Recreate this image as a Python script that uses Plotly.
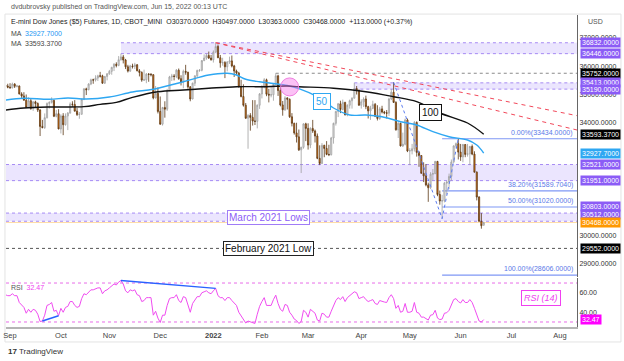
import plotly.graph_objects as go
import pandas as pd

FONT = "Liberation Sans, Arial, sans-serif"

# ---------------- data ----------------
dates = pd.bdate_range("2021-08-30", "2022-06-15")

opens = [
    35330, 35300, 35260, 35240, 35370,
    35290, 35300, 35020, 34950, 34800,
    34540, 34780, 34500, 34740, 34680,
    34450, 33870, 33830, 34180, 34680,
    34720, 34790, 34230, 34320, 33780,
    34240, 33930, 34240, 34340, 34660,
    34650, 34410, 34290, 34300, 34830,
    35200, 35170, 35370, 35520, 35510,
    35580, 35660, 35660, 35400, 35640,
    35730, 35820, 35960, 36070, 36030,
    36230, 36330, 36220, 35980, 35830,
    36010, 35990, 36050, 35840, 35780,
    35510, 35520, 35720, 35710, 35700,
    34880, 35040, 34400, 33950, 34540,
    34480, 35130, 35620, 35650, 35640,
    35860, 35560, 35440, 35820, 35790,
    35270, 34840, 35400, 35660, 35850,
    35860, 36200, 36290, 36380, 36290,
    36230, 36500, 36700, 36300, 36120,
    36130, 35980, 36150, 36190, 36010,
    35830, 35760, 35270, 34930, 34620,
    34160, 34260, 34190, 34060, 34050,
    34620, 35020, 35300, 35520, 35010,
    34980, 34990, 35360, 35660, 35140,
    34630, 34460, 34880, 34830, 34210,
    33980, 33640, 33500, 33040, 33130,
    33960, 33800, 33210, 33800, 33710,
    33530, 32740, 32560, 33200, 33090,
    32880, 32870, 33460, 33980, 34400,
    34670, 34470, 34720, 34280, 34620,
    34780, 34870, 35210, 35150, 34620,
    34740, 34840, 34570, 34420, 34510,
    34650, 34230, 34150, 34490, 34380,
    34350, 34340, 34840, 35080, 34720,
    33750, 33980, 33180, 33240, 34100,
    33000, 33010, 33080, 34010, 32950,
    32840, 32210, 32120, 31800, 31700,
    32180, 32200, 32630, 31460, 31230,
    31240, 31860, 31900, 32100, 32610,
    33180, 33260, 32960, 32790, 33230,
    32880, 32900, 33160, 32890, 32250,
    31370, 30510, 30370,
]
highs = [
    35420, 35380, 35400, 35420, 35400,
    35340, 35320, 35080, 35080, 35000,
    34900, 34860, 34760, 34780, 34720,
    34480, 34100, 34330, 34720, 34760,
    34900, 34820, 34450, 34480, 34300,
    34340, 34330, 34380, 34720, 34760,
    34800, 34520, 34380, 34860, 35220,
    35240, 35400, 35560, 35560, 35680,
    35700, 35800, 35700, 35650, 35760,
    35870, 35980, 36110, 36140, 36360,
    36446, 36400, 36260, 36050, 36050,
    36090, 36120, 36080, 35900, 35820,
    35880, 35760, 35760, 35760, 35720,
    35300, 35250, 34930, 34560, 34760,
    35200, 35660, 35730, 35720, 35900,
    35920, 35680, 35880, 36050, 35800,
    35300, 35420, 35680, 35880, 35900,
    36220, 36420, 36450, 36520, 36400,
    36560, 36832, 36770, 36400, 36300,
    36180, 36180, 36340, 36380, 36050,
    35880, 35800, 35520, 35360, 34700,
    34300, 34340, 34800, 34800, 34650,
    35050, 35320, 35580, 35560, 35200,
    35280, 35400, 35752, 35700, 35320,
    34770, 34940, 34900, 34860, 34340,
    34000, 34000, 33760, 33150, 33980,
    34000, 33980, 33840, 34100, 33760,
    33620, 33200, 33280, 33220, 33350,
    33220, 33500, 34000, 34420, 34700,
    34780, 34820, 34740, 34650, 34820,
    34900, 35413, 35300, 35180, 34830,
    34900, 34960, 34600, 34600, 34780,
    34700, 34620, 34560, 34600, 34420,
    34450, 34880, 35190, 35434, 34760,
    34020, 34000, 33650, 34150, 34150,
    33100, 33250, 34060, 34050, 33000,
    32850, 32600, 32540, 31880, 32250,
    32360, 32650, 32650, 31600, 31450,
    31900, 31950, 32200, 32700, 33200,
    33300, 33434, 33250, 33250, 33240,
    33250, 33180, 33230, 32990, 32280,
    31400, 30800, 30497,
]
lows = [
    35250, 35220, 35200, 35210, 35230,
    35250, 35000, 34880, 34780, 34520,
    34520, 34460, 34420, 34520, 34380,
    33530, 33800, 33780, 34150, 34500,
    34680, 34200, 34190, 33770, 33620,
    33560, 33900, 33740, 34330, 34560,
    34400, 34240, 34140, 34290, 34800,
    34980, 35150, 35330, 35380, 35460,
    35480, 35600, 35380, 35380, 35500,
    35700, 35700, 35830, 35960, 36000,
    36200, 36100, 35900, 35780, 35800,
    35920, 35900, 35820, 35640, 35450,
    35480, 35400, 35450, 35640, 34830,
    34860, 34330, 33930, 33900, 34180,
    34420, 35120, 35480, 35500, 35580,
    35520, 35320, 35220, 35700, 35200,
    34760, 34830, 35300, 35620, 35800,
    35820, 36180, 36230, 36260, 36200,
    36130, 36480, 36290, 35950, 36020,
    35580, 35820, 36080, 35960, 35620,
    35700, 35250, 34900, 34570, 34140,
    33080, 33720, 33900, 33920, 33800,
    34490, 34860, 35220, 34940, 34720,
    34900, 34780, 35350, 34950, 34580,
    34250, 34420, 34470, 34170, 33870,
    33580, 33300, 33000, 32220, 33080,
    33350, 33050, 33100, 33640, 33300,
    32710, 32500, 32540, 32780, 32850,
    32820, 32840, 33260, 33900, 34200,
    34340, 34440, 34260, 34230, 34500,
    34500, 34860, 35000, 34600, 34500,
    34560, 34480, 34150, 34100, 34480,
    34200, 34080, 34100, 34330, 34300,
    34150, 34240, 34800, 34700, 33720,
    33460, 33160, 33140, 33200, 32960,
    32500, 32880, 32980, 32800, 32440,
    32200, 31900, 31750, 31200, 31650,
    31950, 32180, 31400, 31100, 30606,
    31180, 31460, 31650, 31950, 32580,
    33100, 32700, 32650, 32600, 32780,
    32800, 32500, 32850, 32240, 31250,
    30500, 30250, 30363,
]
closes = [
    35300, 35260, 35240, 35370, 35290,
    35300, 35020, 34950, 34800, 34540,
    34780, 34500, 34740, 34680, 34450,
    33870, 33830, 34180, 34680, 34720,
    34790, 34230, 34320, 33780, 34240,
    33930, 34240, 34340, 34660, 34650,
    34410, 34290, 34300, 34830, 35200,
    35170, 35370, 35520, 35510, 35580,
    35660, 35650, 35400, 35640, 35730,
    35820, 35960, 36070, 36030, 36230,
    36330, 36220, 35980, 35830, 36010,
    35990, 36050, 35840, 35780, 35510,
    35520, 35720, 35710, 35700, 34880,
    35040, 34400, 33950, 34540, 34480,
    35130, 35620, 35650, 35640, 35860,
    35560, 35440, 35820, 35790, 35270,
    34840, 35400, 35660, 35850, 35860,
    36200, 36290, 36380, 36290, 36230,
    36500, 36700, 36300, 36120, 36130,
    35980, 36150, 36190, 36010, 35830,
    35760, 35270, 34930, 34620, 34160,
    34260, 34190, 34060, 34050, 34620,
    35020, 35300, 35520, 35010, 34980,
    34990, 35360, 35660, 35140, 34630,
    34460, 34880, 34830, 34210, 33980,
    33640, 33500, 33040, 33130, 33960,
    33800, 33210, 33800, 33710, 33530,
    32740, 32560, 33200, 33090, 32880,
    32870, 33460, 33980, 34400, 34670,
    34470, 34720, 34280, 34620, 34780,
    34870, 35210, 35150, 34620, 34740,
    34840, 34570, 34420, 34510, 34650,
    34230, 34150, 34490, 34380, 34350,
    34340, 34840, 35080, 34720, 33750,
    33980, 33180, 33240, 34100, 33000,
    33010, 33080, 34010, 32950, 32840,
    32210, 32120, 31800, 31700, 32180,
    32200, 32630, 31460, 31230, 31240,
    31860, 31900, 32100, 32610, 33180,
    33260, 32960, 32790, 33230, 32880,
    32900, 33160, 32890, 32250, 31370,
    30510, 30355, 30468,
]
rsi = [
    58, 57, 57, 59, 57,
    57, 50, 48, 45, 39,
    43, 40, 43, 42, 38,
    30.5, 31, 37, 47, 48,
    50, 41, 42, 36.5, 44,
    40, 45, 46, 51, 51,
    47, 45, 46, 54, 59,
    58, 61, 63, 63, 64,
    65, 65, 59, 62, 63,
    65, 67, 69, 68, 71,
    72.5, 69, 62, 60, 63,
    62, 63, 58, 57, 51,
    52, 55, 55, 55, 37,
    41, 34, 29.5, 37, 37,
    47, 54, 55, 55, 58,
    52, 50, 56, 55, 46,
    40, 49, 53, 56, 56,
    60, 61, 62, 60, 59,
    62, 64.5, 57, 55, 55,
    52, 55, 55, 52, 49,
    47, 40, 36, 33, 29,
    31, 30, 29, 28.5, 38,
    46, 51, 55, 47, 47,
    47, 53, 57.5, 49, 43,
    41, 48, 47, 40, 37,
    33, 31.5, 28.5, 30.5, 42,
    40, 35, 43, 41, 39,
    32, 31, 39, 38, 35,
    35, 41, 47, 52, 55,
    53, 56, 51, 55, 57,
    58, 61, 60, 54, 55,
    56, 53, 51, 52, 53,
    49, 48, 52, 51, 50.5,
    50, 55, 58, 54, 44,
    47, 40, 41, 49, 40,
    40, 41, 50, 40, 39,
    35, 35, 33, 32, 37,
    37.5, 42, 34, 32.5, 33,
    39, 39.5, 42, 47, 53,
    54, 51, 49.5, 53, 50,
    50, 53, 50, 44, 37,
    31, 30, 32.47,
]
assert len(dates) == len(opens) == len(highs) == len(lows) == len(closes) == len(rsi), (
    len(dates), len(opens), len(highs), len(lows), len(closes), len(rsi))

ma50_dates = ["2021-08-30", "2021-09-09", "2021-09-24", "2021-10-06", "2021-10-18",
              "2021-11-01", "2021-11-15", "2021-11-26", "2021-12-15", "2021-12-30",
              "2022-01-11", "2022-01-17", "2022-01-21", "2022-01-31", "2022-02-08",
              "2022-02-16", "2022-02-23", "2022-03-07", "2022-03-16", "2022-03-25",
              "2022-04-05", "2022-04-14", "2022-04-26", "2022-05-05", "2022-05-16",
              "2022-05-25", "2022-06-06", "2022-06-10", "2022-06-15"]
ma50_vals = [34805, 34865, 34830, 34876, 34841,
             34911, 35088, 35184, 35453, 35690,
             35750, 35690, 35540, 35450, 35390,
             35320, 35210, 34922, 34522, 34274,
             34274, 34214, 34037, 33920, 33683,
             33506, 33389, 33212, 32927.7]

ma100_dates = ["2021-08-30", "2021-09-09", "2021-09-24", "2021-10-15", "2021-10-26",
               "2021-11-04", "2021-11-15", "2021-11-30", "2021-12-15", "2021-12-30",
               "2022-01-17", "2022-02-03", "2022-02-16", "2022-02-23", "2022-03-16",
               "2022-04-05", "2022-04-21", "2022-05-05", "2022-05-19", "2022-06-06",
               "2022-06-15"]
ma100_vals = [34451, 34522, 34557, 34570, 34650,
              34720, 34900, 35099, 35159, 35219,
              35276, 35276, 35301, 35276, 35219,
              35099, 34922, 34745, 34345, 33991,
              33593.37]

month_ticks = ["2021-09-01", "2021-10-01", "2021-11-01", "2021-12-01", "2022-01-03",
               "2022-02-01", "2022-03-01", "2022-04-01", "2022-05-02", "2022-06-01",
               "2022-07-01", "2022-08-01"]
month_labels = ["Sep", "Oct", "Nov", "Dec", "<b>2022</b>", "Feb", "Mar", "Apr", "May",
                "Jun", "Jul", "Aug"]

price_ticks = [29000, 30000, 34000, 35000, 36000, 37000]
rsi_ticks = [40, 60]

# horizontal zones (low, high, start date or None for full width)
zones = [(36446, 36832, "2021-11-08"), (35190, 35413, "2022-03-29"),
         (31951, 32521, None), (30512, 30803, None)]

# fibonacci extension
fib_levels = [("0.00%", 33434.0), ("38.20%", 31589.704), ("50.00%", 31020.0), ("100.00%", 28606.0)]
fib_start = "2022-05-20"
fib_abc_dates = ["2022-04-21", "2022-05-20", "2022-05-31"]
fib_abc_vals = [35434, 30606, 33434]

# red descending trend lines (start, end price at right edge)
trend_start = ("2022-01-04", 36832)
trend_ends = [34250, 33743]

# RSI divergence lines
div1_dates, div1_vals = ["2021-09-21", "2021-09-30"], [31, 36.5]
div2_dates, div2_vals = ["2021-11-08", "2022-01-04"], [72.5, 64.5]

X_START = "2021-08-30 06:00"
X_END = "2022-08-10 09:00"

PURPLE = "#8b5cf6"
ZONE_FILL = "rgba(176,150,250,0.25)"
ZONE_LINE = "rgba(140,105,240,0.75)"
MAGENTA = "#f04cf0"

# ---------------- figure ----------------
fig = go.Figure()

fig.add_trace(go.Candlestick(
    x=dates, open=opens, high=highs, low=lows, close=closes,
    increasing=dict(fillcolor="#e6e6e6", line=dict(color="#a0a0a0", width=0.8)),
    decreasing=dict(fillcolor="#f47b0c", line=dict(color="#5a3714", width=0.8)),
    xaxis="x", yaxis="y", hoverinfo="skip", whiskerwidth=0))

fig.add_trace(go.Scatter(x=ma50_dates, y=ma50_vals, mode="lines", xaxis="x", yaxis="y",
                         line=dict(color="#2ea7f2", width=1.4, shape="spline")))
fig.add_trace(go.Scatter(x=ma100_dates, y=ma100_vals, mode="lines", xaxis="x", yaxis="y",
                         line=dict(color="#111111", width=1.4, shape="spline")))
fig.add_trace(go.Scatter(x=fib_abc_dates, y=fib_abc_vals, mode="lines", xaxis="x", yaxis="y",
                         line=dict(color="#5b7cf0", width=1, dash="dot")))

fig.add_trace(go.Scatter(x=dates, y=rsi, mode="lines", xaxis="x", yaxis="y2",
                         line=dict(color=MAGENTA, width=1)))
for dd, vv in [(div1_dates, div1_vals), (div2_dates, div2_vals)]:
    fig.add_trace(go.Scatter(x=dd, y=vv, mode="lines", xaxis="x", yaxis="y2",
                             line=dict(color="#2962ff", width=1.5)))

shapes = []
for lo, hi, start in zones:
    if start is None:
        xref, x0, x1 = "paper", 0, 1
    else:
        xref, x0, x1 = "x", start, X_END
    shapes.append(dict(type="rect", xref=xref, yref="y", x0=x0, x1=x1, y0=lo, y1=hi,
                       fillcolor=ZONE_FILL, line=dict(width=0), layer="below"))
    for lvl in (lo, hi):
        shapes.append(dict(type="line", xref=xref, yref="y", x0=x0, x1=x1, y0=lvl, y1=lvl,
                           line=dict(color=ZONE_LINE, width=1, dash="dot"), layer="below"))

# 35752 dotted grey line
shapes.append(dict(type="line", xref="x", yref="y", x0="2022-02-09", x1=X_END, y0=35752, y1=35752,
                   line=dict(color="#8a8a8a", width=1, dash="dot"), layer="below"))
# 29552 dashed line
shapes.append(dict(type="line", xref="paper", yref="y", x0=0, x1=1, y0=29552, y1=29552,
                   line=dict(color="#555555", width=1, dash="3px,3px"), layer="below"))
# last price line
shapes.append(dict(type="line", xref="paper", yref="y", x0=0, x1=1, y0=30468, y1=30468,
                   line=dict(color="rgba(255,152,0,0.35)", width=1), layer="below"))
# fib level lines
for name, lvl in fib_levels:
    shapes.append(dict(type="line", xref="x", yref="y", x0=fib_start, x1=X_END, y0=lvl, y1=lvl,
                       line=dict(color="#7f97f5", width=1.1), layer="below"))
# red trend lines
for end in trend_ends:
    shapes.append(dict(type="line", xref="x", yref="y", x0=trend_start[0], x1=X_END,
                       y0=trend_start[1], y1=end,
                       line=dict(color="#f2485a", width=1, dash="4px,4px"), layer="below"))
# pink circle at MA cross
shapes.append(dict(type="circle", xref="x", yref="y", xsizemode="pixel", ysizemode="pixel",
                   xanchor="2022-02-17", yanchor=35268, x0=-9, x1=9, y0=-9, y1=9,
                   fillcolor="rgba(246,120,232,0.45)", line=dict(color="#f07ee0", width=1)))
# RSI bands
for lvl in (70, 30):
    shapes.append(dict(type="line", xref="paper", yref="y2", x0=0, x1=1, y0=lvl, y1=lvl,
                       line=dict(color="#e86ce8", width=1, dash="3px,3px"), layer="below"))
# chart frame
shapes.append(dict(type="rect", xref="paper", yref="paper", x0=-0.0018, x1=1.077, y0=-0.048, y1=1.003,
                   line=dict(color="#e3e3e3", width=1), fillcolor="rgba(0,0,0,0)", layer="below"))

ann = []
# right side price labels
right_labels = [
    (36832, "36832.0000", PURPLE, 0), (36446, "36446.0000", PURPLE, 0),
    (35752, "35752.0000", "#000000", 0), (35413, "35413.0000", PURPLE, 0),
    (35190, "35190.0000", PURPLE, 0), (33593.37, "33593.3700", "#000000", 0),
    (32927.7, "32927.7000", "#2ea7f2", 0), (32521, "32521.0000", PURPLE, 0),
    (31951, "31951.0000", PURPLE, 0), (30803, "30803.0000", PURPLE, 7),
    (30512, "30512.0000", PURPLE, 7), (30468, "30468.0000", "#ff9800", 0),
    (29552, "29552.0000", "#000000", 0),
]
for val, txt, bg, ys in right_labels:
    ann.append(dict(xref="paper", yref="y", x=1, y=val, xanchor="left", yanchor="middle",
                    xshift=3, yshift=ys, text=txt, showarrow=False, bgcolor=bg, borderpad=1,
                    font=dict(size=7, color="white", family=FONT)))
ann.append(dict(xref="paper", yref="y2", x=1, y=32.47, xanchor="left", yanchor="middle",
                xshift=3, text="32.47", showarrow=False, bgcolor="#ff00ff", borderpad=1,
                font=dict(size=7, color="white", family=FONT)))
ann.append(dict(xref="paper", yref="paper", x=1, y=0.9776, xanchor="left", yanchor="middle",
                xshift=9, text="USD", showarrow=False, font=dict(size=7, color="#555", family=FONT)))

# fib labels
for name, lvl in fib_levels:
    ann.append(dict(xref="paper", yref="y", x=1, y=lvl, xanchor="right", yanchor="bottom",
                    xshift=-2, yshift=0, text=f"{name}({lvl:.4f})", showarrow=False,
                    font=dict(size=7, color="#5a78e8", family=FONT)))

# chart text boxes
ann.append(dict(xref="x", yref="y", x="2022-02-04", y=30657, text="March 2021 Lows",
                showarrow=False, bgcolor="white", bordercolor="#a07cf7", borderwidth=1, borderpad=1,
                font=dict(size=10, color="#8c5cf6", family=FONT)))
ann.append(dict(xref="x", yref="y", x="2022-02-04", y=29552, text="February 2021 Low",
                showarrow=False, bgcolor="white", bordercolor="#222", borderwidth=1, borderpad=1,
                font=dict(size=10, color="#111", family=FONT)))
ann.append(dict(xref="x", yref="y", x="2022-03-09", y=34735, text="50",
                showarrow=False, bgcolor="white", bordercolor="#2ea7f2", borderwidth=1, borderpad=2,
                font=dict(size=10, color="#2ea7f2", family=FONT)))
ann.append(dict(xref="x", yref="y", x="2022-05-13", y=34380, text="100",
                showarrow=False, bgcolor="white", bordercolor="#111", borderwidth=1, borderpad=2,
                font=dict(size=10, color="#111", family=FONT)))
ann.append(dict(xref="x", yref="y2", x="2022-07-20", y=54.6, text="<i>RSI (14)</i>",
                showarrow=False, bgcolor="white", bordercolor="#f040f0", borderwidth=1, borderpad=2,
                font=dict(size=9, color="#f040f0", family=FONT)))

# header / legend texts
hx = 0.00525
ann.append(dict(xref="paper", yref="paper", x=hx, y=1.0256, xanchor="left", yanchor="middle",
                text="dvdubrovsky published on TradingView.com, Jun 15, 2022 00:13 UTC",
                showarrow=False, font=dict(size=7, color="#555", family=FONT)))
ann.append(dict(xref="paper", yref="paper", x=hx, y=0.9776, xanchor="left", yanchor="middle",
                text="E-mini Dow Jones ($5) Futures, 1D, CBOT_MINI  O30370.0000  H30497.0000  "
                     "L30363.0000  C30468.0000  +113.0000 (+0.37%)",
                showarrow=False, font=dict(size=7, color="#222", family=FONT)))
ann.append(dict(xref="paper", yref="paper", x=hx, y=0.9423, xanchor="left", yanchor="middle",
                text="MA  <span style='color:#2196f3'>32927.7000</span>",
                showarrow=False, font=dict(size=7, color="#444", family=FONT)))
ann.append(dict(xref="paper", yref="paper", x=hx, y=0.9071, xanchor="left", yanchor="middle",
                text="MA  33593.3700",
                showarrow=False, font=dict(size=7, color="#444", family=FONT)))
ann.append(dict(xref="paper", yref="paper", x=hx, y=0.128, xanchor="left", yanchor="middle",
                text="RSI  <span style='color:#f040f0'>32.47</span>",
                showarrow=False, font=dict(size=7, color="#555", family=FONT)))
ann.append(dict(xref="paper", yref="paper", x=0, y=-0.080, xanchor="left", yanchor="middle",
                text="<b>17</b> TradingView",
                showarrow=False, font=dict(size=8, color="#333", family=FONT)))

fig.update_layout(
    width=624, height=361,
    margin=dict(l=6, r=47, t=15, b=34),
    paper_bgcolor="white", plot_bgcolor="white",
    showlegend=False,
    font=dict(family=FONT, size=7, color="#333"),
    shapes=shapes, annotations=ann,
    xaxis=dict(type="date", domain=[0, 1], anchor="y2", range=[X_START, X_END],
               rangebreaks=[dict(bounds=["sat", "mon"])],
               tickvals=month_ticks, ticktext=month_labels, ticklabeloverflow="allow",
               showgrid=False, zeroline=False, showline=True, linecolor="#b5b5b5", linewidth=2,
               ticks="", tickfont=dict(size=7.5, color="#444"),
               rangeslider=dict(visible=False), automargin=False, fixedrange=True),
    yaxis=dict(domain=[0.1603, 1], range=[28540, 37814], side="right", anchor="x",
               showgrid=False, zeroline=False, showline=True, linecolor="#666", linewidth=1,
               ticks="", tickvals=price_ticks, ticktext=[f"{v}.0000" for v in price_ticks],
               ticklabeloverflow="allow",
               tickfont=dict(size=7, color="#333"), automargin=False, fixedrange=True),
    yaxis2=dict(domain=[0, 0.157], range=[24.87, 75.13], side="right", anchor="x",
                showgrid=False, zeroline=False, showline=True, linecolor="#666", linewidth=1,
                ticks="", tickvals=rsi_ticks, ticktext=[f"{v:.2f}" for v in rsi_ticks],
                ticklabeloverflow="allow",
                tickfont=dict(size=7, color="#333"), automargin=False, fixedrange=True),
)

fig.write_html("out.html", config={"displayModeBar": False},
               post_script="document.body.style.margin='0px';")
